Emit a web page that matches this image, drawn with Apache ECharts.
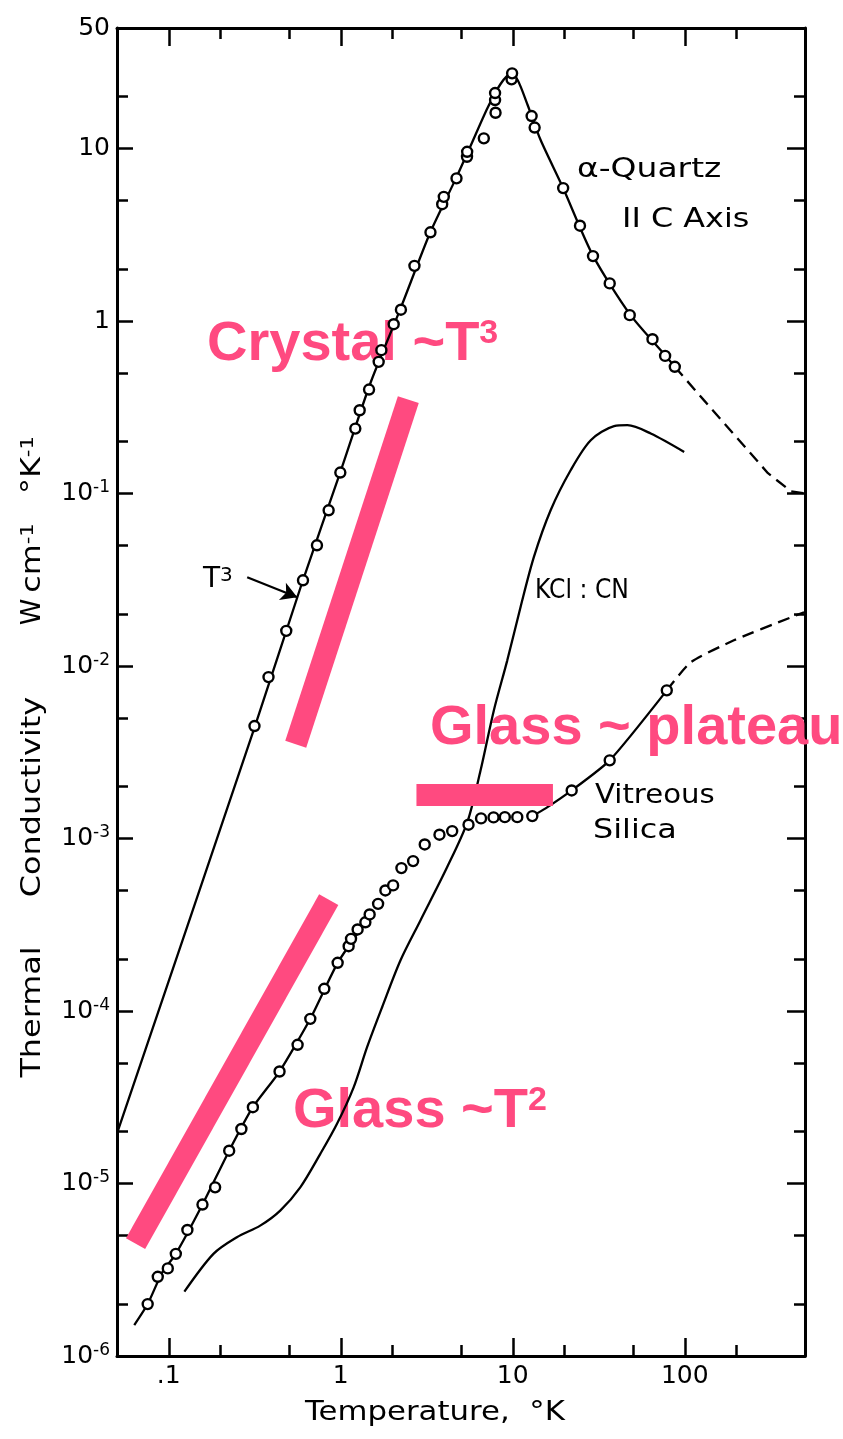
<!DOCTYPE html>
<html><head><meta charset="utf-8">
<script src="https://cdn.jsdelivr.net/npm/echarts@6/dist/echarts.min.js"></script>
<style>html,body{margin:0;padding:0;background:#fff}#c{width:843px;height:1439px}</style>
</head><body><div id="c"></div>
<script>
// ---------- data (T in K, conductivity in W cm^-1 K^-1) ----------
const quartzT = [0.315,0.380,0.482,0.603,0.727,0.850,0.994,1.215,1.288,1.46,1.661,1.722,2.031,2.237,2.681,3.322,3.887,3.972,4.708,5.418,5.43,6.787,7.94,7.89,7.89,9.84,9.91,12.87,13.40,19.63,24.59,29.27,36.61,47.87,64.9,76.85,87.5];
const quartzK = [4.49e-3,8.63e-3,1.60e-2,3.14e-2,5.01e-2,8.0e-2,0.1324,0.238,0.304,0.401,0.580,0.678,0.959,1.164,2.09,3.27,4.76,5.25,6.72,8.96,9.58,11.46,16.13,19.11,20.99,25.2,27.3,15.44,13.24,5.90,3.57,2.38,1.653,1.082,0.785,0.628,0.543];
const quartzLineT = [0.0507,0.314,0.597,0.994,1.486,2.23,3.32,4.71,5.68,7.13,8.49,9.71,10.67,12.2,14.52,19.5,29.15,47.9,76.9,87.5];
const quartzLineK = [2.03e-5,4.35e-3,3.06e-2,0.133,0.436,1.188,3.28,6.83,10.34,17.18,23.67,27.05,24.97,17.88,11.2,5.98,2.41,1.097,0.634,0.543];
const quartzDashT = [87.5,129.1,304.5,414.5,494];
const quartzDashK = [0.543,0.348,0.1312,0.103,0.1004];

const silicaT = [0.0754,0.0863,0.0987,0.1099,0.1283,0.157,0.186,0.2245,0.2643,0.3083,0.4406,0.561,0.665,0.802,0.959,1.111,1.147,1.253,1.390,1.472,1.648,1.817,2.015,2.252,2.634,3.077,3.748,4.444,5.53,6.54,7.73,8.99,10.62,12.99,22.0,36.6,78.6];
const silicaK = [2.00e-6,2.88e-6,3.22e-6,3.91e-6,5.38e-6,7.55e-6,9.5e-6,1.55e-5,2.07e-5,2.77e-5,4.46e-5,6.37e-5,9.01e-5,1.345e-4,1.904e-4,2.376e-4,2.62e-4,2.97e-4,3.27e-4,3.63e-4,4.18e-4,5.0e-4,5.35e-4,6.74e-4,7.40e-4,9.24e-4,1.052e-3,1.104e-3,1.203e-3,1.308e-3,1.326e-3,1.33e-3,1.33e-3,1.349e-3,1.90e-3,2.84e-3,7.23e-3];
const silicaLineLowT = [0.063,0.0754,0.0914,0.1099,0.157,0.2245,0.308,0.4406,0.665,0.959,1.39];
const silicaLineLowK = [1.51e-6,2.0e-6,3.04e-6,3.91e-6,7.55e-6,1.55e-5,2.77e-5,4.46e-5,9.01e-5,1.9e-4,3.27e-4];
const silicaLineHighT = [12.99,15.52,22.0,36.6,78.6];
const silicaLineHighK = [1.349e-3,1.495e-3,1.9e-3,2.84e-3,7.23e-3];
const silicaDashT = [78.6,108.4,193,414.5,494];
const silicaDashK = [7.23e-3,1.051e-2,1.41e-2,1.916e-2,2.05e-2];

const kclT = [0.1232,0.1818,0.2488,0.340,0.4446,0.5814,0.7603,0.951,1.188,1.422,1.739,2.222,2.905,4.156,5.434,6.494,7.76,9.29,11.1,13.27,16.6,21.7,28.4,38.8,46.4,63.4,99.2];
const kclK = [2.36e-6,3.91e-6,4.88e-6,5.70e-6,6.97e-6,9.5e-6,1.485e-5,2.22e-5,3.61e-5,6.17e-5,1.052e-4,1.963e-4,3.35e-4,6.83e-4,1.24e-3,2.48e-3,5.53e-3,1.079e-2,2.20e-2,4.29e-2,0.080,0.1365,0.2038,0.2457,0.249,0.2229,0.1743];

// highlighter annotations
const crystalBarT = [0.547,2.47];
const crystalBarK = [3.52e-3,0.35];
const plateauBarT = [2.754,17.12];
const plateauBarK = [1.786e-3,1.786e-3];
const glassBarT = [0.0641,0.851];
const glassBarK = [4.48e-6,4.43e-4];
const arrowT = [0.2857,0.5585];
const arrowK = [0.0327,0.02503];

// ticks
const xMajorTicks = [0.1,1,10,100];
const xTickLabels = ['.1','1','10','100'];
const xMinorTicks = [0.2,0.5,2,5,20,50,200];
const yMajorTicks = [1e-6,1e-5,1e-4,1e-3,1e-2,1e-1,1,10];
const yMinorTicks = [2e-6,5e-6,2e-5,5e-5,2e-4,5e-4,2e-3,5e-3,2e-2,5e-2,0.2,0.5,2,5,20];
const yLabelVals = [1e-6,1e-5,1e-4,1e-3,1e-2,1e-1,1,10,50];
const yLabelBase = ['10','10','10','10','10','10','1','10','50'];
const yLabelExp = ['-6','-5','-4','-3','-2','-1','','',''];

// ---------- chart ----------
const L = Math.log10;
const pts = (T,K) => T.map((t,i) => [L(t), L(K[i])]);
const X_MIN = L(0.05), X_MAX = L(500), Y_MIN = L(1e-6), Y_MAX = L(50);
const FONT = '"DejaVu Sans", sans-serif';
const BOLD = '"Liberation Sans", Arial, sans-serif';
const PINK = '#ff4a80';
const MAJ = 18, MIN = 11;

function mkAxis(kind, pos, ticks, len, withLine, labelVals, fmt) {
  const isX = kind === 'x';
  return {
    type: 'value', min: isX ? X_MIN : Y_MIN, max: isX ? X_MAX : Y_MAX, position: pos,
    axisLine: {show: withLine, onZero: false, lineStyle: {color: '#000', width: 3}},
    axisTick: {show: true, inside: true, length: len, customValues: ticks.map(L), lineStyle: {color: '#000', width: 2.5}},
    axisLabel: labelVals ? {show: true, customValues: labelVals.map(L), formatter: fmt, color: '#000', fontFamily: FONT, fontSize: 25, margin: isX ? 8 : 7,
      rich: {b: {fontSize: 25, fontFamily: FONT, color: '#000', lineHeight: 28},
             s: {fontSize: 17, fontFamily: FONT, color: '#000', lineHeight: 16, verticalAlign: 'top'}}} : {show: false},
    splitLine: {show: false}
  };
}
const nearIdx = (arr, v) => arr.findIndex(a => Math.abs(L(a) - v) < 1e-6);
const xFmt = v => { const i = nearIdx(xMajorTicks, v); return i < 0 ? '' : xTickLabels[i]; };
const yFmt = v => { const i = nearIdx(yLabelVals, v); if (i < 0) return '';
  return yLabelExp[i] ? '{b|' + yLabelBase[i] + '}{s|' + yLabelExp[i] + '}' : '{b|' + yLabelBase[i] + '}'; };

const lineSeries = (data, extra) => Object.assign({type: 'line', data, symbol: 'none', silent: true, z: 3,
  lineStyle: {color: '#000', width: 2.3}}, extra || {});
const barSeries = (T, K) => ({type: 'line', data: pts(T, K), symbol: 'none', silent: true, z: 10,
  lineStyle: {color: PINK, width: 22, cap: 'butt'}});
const scatterSeries = (T, K) => ({type: 'scatter', data: pts(T, K), symbol: 'circle', symbolSize: 10, silent: true, z: 5,
  itemStyle: {color: '#fff', borderColor: '#000', borderWidth: 2.4, opacity: 1}});

function txt(text, x, y, opt) {
  opt = opt || {};
  return {type: 'text', x, y, z: opt.z || 20, rotation: opt.rot || 0, scaleX: opt.sx || 1, silent: true,
    style: {text, fill: opt.color || '#000', fontFamily: opt.family || FONT, fontSize: opt.size || 26,
      fontWeight: opt.weight || 'normal', align: opt.align || 'left', verticalAlign: 'middle',
      rich: {s: {fontSize: opt.sup || 17, fontFamily: opt.family || FONT, fontWeight: opt.weight || 'normal',
        fill: opt.color || '#000', verticalAlign: 'top', lineHeight: opt.sup || 17}}}};
}
const pinkOpt = {color: PINK, family: BOLD, size: 56, weight: 'bold', sup: 34, z: 1};
const vert = (extra) => Object.assign({size: 27, rot: Math.PI / 2, align: 'center', sx: 1.18, sup: 18}, extra || {});

const chart = echarts.init(document.getElementById('c'), null, {renderer: 'canvas'});
chart.setOption({
  animation: false,
  backgroundColor: '#fff',
  grid: {left: 117, right: 38, top: 28, bottom: 83, containLabel: false},
  xAxis: [
    mkAxis('x', 'bottom', xMajorTicks, MAJ, true, xMajorTicks, xFmt),
    mkAxis('x', 'bottom', xMinorTicks, MIN, false),
    mkAxis('x', 'top', xMajorTicks, MAJ, true),
    mkAxis('x', 'top', xMinorTicks, MIN, false)
  ],
  yAxis: [
    mkAxis('y', 'left', yMajorTicks, MAJ - 2, true, yLabelVals, yFmt),
    mkAxis('y', 'left', yMinorTicks, MIN, false),
    mkAxis('y', 'right', yMajorTicks, MAJ, true),
    mkAxis('y', 'right', yMinorTicks, MIN, false)
  ],
  series: [
    lineSeries(pts(quartzLineT, quartzLineK), {smooth: 0.25,
      markLine: {silent: true, symbol: ['none', 'arrow'], symbolSize: [14, 16], label: {show: false},
        lineStyle: {color: '#000', width: 2.3, type: 'solid'},
        data: [[{coord: [L(arrowT[0]), L(arrowK[0])]}, {coord: [L(arrowT[1]), L(arrowK[1])]}]]}}),
    lineSeries(pts(quartzDashT, quartzDashK), {lineStyle: {color: '#000', width: 2.3, type: [12, 7]}}),
    scatterSeries(quartzT, quartzK),
    lineSeries(pts(silicaLineLowT, silicaLineLowK), {smooth: 0.2}),
    lineSeries(pts(silicaLineHighT, silicaLineHighK), {smooth: 0.2}),
    lineSeries(pts(silicaDashT, silicaDashK), {smooth: 0.2, lineStyle: {color: '#000', width: 2.3, type: [12, 7]}}),
    scatterSeries(silicaT, silicaK),
    lineSeries(pts(kclT, kclK), {smooth: 0.3}),
    barSeries(crystalBarT, crystalBarK),
    barSeries(plateauBarT, plateauBarK),
    barSeries(glassBarT, glassBarK)
  ],
  graphic: [
    txt('Crystal ~T{s|3}', 207, 345, pinkOpt),
    txt('Glass ~ plateau', 430, 729, pinkOpt),
    txt('Glass ~T{s|2}', 293, 1112, pinkOpt),
    txt('α-Quartz', 577, 170, {size: 27, sx: 1.22}),
    txt('II C Axis', 622, 220, {size: 27, sx: 1.18}),
    txt('KCl : CN', 535, 591, {size: 27, sx: 0.87}),
    txt('Vitreous', 595, 796, {size: 27, sx: 1.08}),
    txt('Silica', 593, 831, {size: 27, sx: 1.18}),
    txt('T{s|3}', 203, 580, {size: 28, sup: 20}),
    txt('Temperature,  °K', 305, 1413, {size: 27, sx: 1.14}),
    txt('Thermal', 33, 1012, vert()),
    txt('Conductivity', 33, 797, vert()),
    txt('W', 33, 612, vert({sx: 1})),
    txt('cm{s|-1}', 33, 558, vert()),
    txt('°K{s|-1}', 33, 465, vert())
  ]
});
</script></body></html>
